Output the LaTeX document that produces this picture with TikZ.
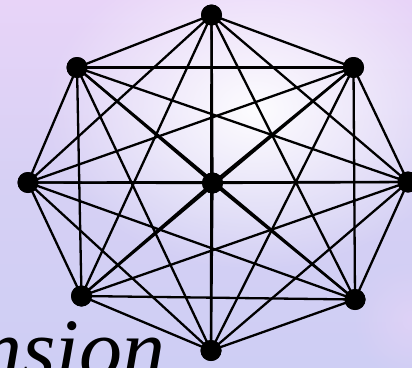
\documentclass[tikz,border=0pt]{standalone}
\usepackage{fontspec}
\setmainfont{Liberation Serif}
\usetikzlibrary{fadings}
\definecolor{bgtop}{RGB}{232,212,248}
\definecolor{bgbot}{RGB}{206,206,244}
\definecolor{bgmid}{RGB}{214,208,244}
\tikzfading[name=softglow, inner color=transparent!0, outer color=transparent!100]
\tikzset{
  vert/.style={circle, fill=black, inner sep=0pt, minimum size=21pt},
  edge/.style={line width=2.3pt, black},
}
\begin{document}
\begin{tikzpicture}[x=1pt,y=-1pt]
\useasboundingbox (0,0) rectangle (412,367);
\shade[top color=bgtop, bottom color=bgbot, middle color=bgmid] (0,0) rectangle (412,367);
\fill[white, path fading=softglow, fill opacity=0.95] (255,110) ellipse (210 and 160);
\fill[bgtop, path fading=softglow, fill opacity=0.6] (412,320) ellipse (60 and 60);
\node[anchor=base west, inner sep=0pt, font=\fontsize{86}{86}\selectfont\itshape] (word) at (-21,378) {nsion};
\node[vert] (t)  at (211.5,15) {};
\node[vert] (ul) at (77,67.5) {};
\node[vert] (ur) at (353.5,67.5) {};
\node[vert] (l)  at (28,182.5) {};
\node[vert] (c)  at (212.5,183) {};
\node[vert] (r)  at (408,182) {};
\node[vert] (ll) at (81.5,296) {};
\node[vert] (lr) at (355,299.5) {};
\node[vert] (b)  at (211,350.5) {};
\foreach \u [count=\i] in {t,ul,ur,l,c,r,ll,lr,b}{
  \foreach \v [count=\j] in {t,ul,ur,l,c,r,ll,lr,b}{
    \ifnum\j>\i \draw[edge] (\u.center) -- (\v.center); \fi
  }
}
\foreach \u in {t,ul,ur,l,c,r,ll,lr,b}{ \fill (\u) circle (10.5pt); }
\end{tikzpicture}
\end{document}
